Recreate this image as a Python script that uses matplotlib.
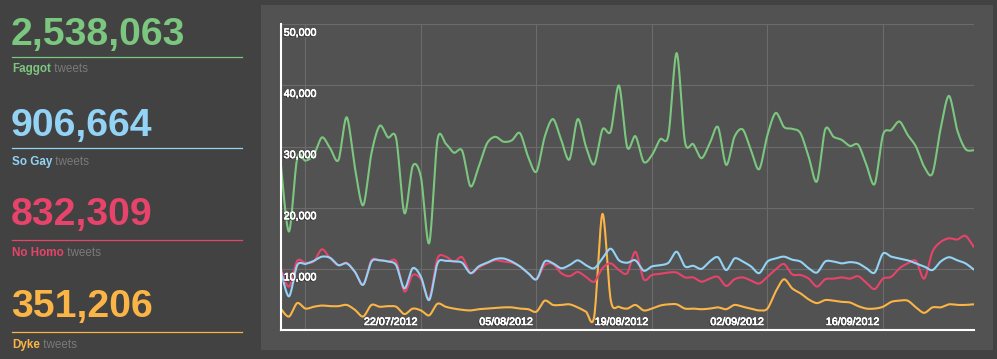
import numpy as np
import pandas as pd
import matplotlib
matplotlib.use('Agg')
import matplotlib.pyplot as plt
import matplotlib.dates as mdates
import matplotlib.patheffects as pe
from matplotlib.lines import Line2D
from matplotlib.patches import Rectangle
from matplotlib.transforms import offset_copy

plt.rcParams['font.family'] = ['Liberation Sans', 'DejaVu Sans']

# ---------------- data ----------------
dates = pd.date_range('2012-07-05', '2012-09-27', freq='D')

faggot = [27300, 16100, 28100, 27700, 28600, 31500, 29700, 27800, 34800, 26500,
          20400, 28900, 33400, 31500, 31300, 19100, 26800, 25000, 14200, 31100,
          30500, 29000, 29300, 23500, 26700, 30500, 31600, 30800, 31000, 32200,
          28300, 25900, 31600, 34500, 31100, 27900, 34500, 30000, 27100, 32800,
          32500, 40000, 29900, 31700, 27500, 28600, 31200, 31900, 45300, 30800,
          30400, 28100, 30500, 33200, 27000, 31600, 32800, 29400, 26300, 31900,
          35500, 33200, 32900, 32200, 28300, 24300, 32800, 31600, 31100, 30100,
          30300, 27000, 23900, 31900, 32700, 34100, 31900, 30000, 26700, 25600,
          33000, 38300, 32700, 29600, 29400]

so_gay = [9800, 5500, 10600, 10800, 11300, 12000, 11800, 10600, 10900, 9500,
          7400, 11200, 11400, 11200, 10600, 6800, 10100, 8700, 4900, 10900,
          11300, 11200, 11000, 9300, 10400, 11000, 11600, 11700, 11200, 10400,
          9300, 8300, 11200, 10900, 10100, 10600, 11400, 10600, 10100, 11700,
          13300, 11400, 11000, 11400, 9700, 10400, 10600, 11000, 12800, 10400,
          10500, 10000, 11200, 11900, 9800, 11700, 11200, 10400, 9300, 11200,
          11700, 12000, 11500, 11200, 10100, 9400, 11200, 11200, 10900, 11100,
          10900, 10100, 9400, 12500, 12000, 11700, 11400, 10900, 10400, 9800,
          11200, 11900, 11400, 10900, 9900]

no_homo = [10100, 7100, 11300, 11000, 11200, 13200, 11700, 10600, 11000, 9500,
           7400, 11400, 11400, 11200, 11200, 6300, 9000, 8300, 5200, 11700,
           12000, 11200, 11900, 9300, 10200, 10900, 11400, 11200, 11000, 10400,
           9300, 8300, 10600, 10800, 9300, 8800, 9500, 8700, 7900, 10100,
           10900, 9800, 9300, 12800, 8300, 9000, 9200, 9400, 9400, 8600,
           8600, 7900, 8400, 8700, 7200, 8300, 8600, 8100, 7600, 8700,
           9900, 10800, 9100, 9000, 8400, 7100, 8300, 8400, 8600, 8400,
           8800, 7700, 6700, 8400, 8700, 10100, 10900, 11300, 8400, 12800,
           14400, 15000, 14800, 15400, 13600]

dyke = [3500, 2200, 4400, 3500, 3800, 4000, 3900, 3900, 4100, 3300,
        2200, 4100, 3800, 3900, 3800, 2600, 3500, 3200, 2400, 4300,
        3800, 3500, 3300, 3200, 3400, 3500, 3600, 3700, 3700, 3500,
        3400, 3000, 4800, 4100, 4100, 4200, 3700, 3000, 2200, 19000,
        4900, 3800, 3500, 4100, 3200, 3500, 4000, 4200, 4200, 3500,
        3500, 3400, 3500, 3700, 3400, 4100, 3800, 3500, 3200, 3500,
        6300, 8300, 6800, 6000, 5000, 4400, 4900, 4800, 4600, 4500,
        3900, 3500, 3500, 3800, 4600, 4800, 4800, 3700, 2800, 3700,
        3700, 4200, 4100, 4100, 4200]

names = ['Faggot', 'So Gay', 'No Homo', 'Dyke']
totals = [2538063, 906664, 832309, 351206]
y_ticks = [10000, 20000, 30000, 40000, 50000]
x_ticks = ['2012-07-08', '2012-07-22', '2012-08-05', '2012-08-19', '2012-09-02', '2012-09-16']
x_labeled = ['2012-07-22', '2012-08-05', '2012-08-19', '2012-09-02', '2012-09-16']

# ---------------- style ----------------
C_GREEN, C_BLUE, C_RED, C_ORANGE = '#7cc77f', '#93d3f6', '#e8436a', '#fbb446'
colors = [C_GREEN, C_BLUE, C_RED, C_ORANGE]
BG, PANEL, GRID = '#424242', '#525252', '#6b6b6b'
W, H = 997, 359


def cardinal(x, y, a=0.15, n=16):
    # d3 'cardinal' style curve (bezier control = p +/- a*(p[i+1]-p[i-1]))
    x = np.asarray(x, float); y = np.asarray(y, float)
    tx = np.zeros_like(x); ty = np.zeros_like(y)
    tx[1:-1] = a * (x[2:] - x[:-2]); ty[1:-1] = a * (y[2:] - y[:-2])
    tx[0] = a * (x[1] - x[0]); ty[0] = a * (y[1] - y[0])
    tx[-1] = a * (x[-1] - x[-2]); ty[-1] = a * (y[-1] - y[-2])
    s = np.linspace(0, 1, n, endpoint=False)[:, None]
    b0, b1, b2, b3 = (1 - s) ** 3, 3 * s * (1 - s) ** 2, 3 * s ** 2 * (1 - s), s ** 3
    X = b0 * x[:-1] + b1 * (x[:-1] + tx[:-1]) + b2 * (x[1:] - tx[1:]) + b3 * x[1:]
    Y = b0 * y[:-1] + b1 * (y[:-1] + ty[:-1]) + b2 * (y[1:] - ty[1:]) + b3 * y[1:]
    return np.append(X.T.ravel(), x[-1]), np.append(Y.T.ravel(), y[-1])


fig = plt.figure(figsize=(W / 100, H / 100), dpi=100, facecolor=BG)
fig.add_artist(Rectangle((261 / W, 1 - 350 / H), 732 / W, 345 / H,
                         transform=fig.transFigure, fc=PANEL, ec='none', zorder=0))

ax = fig.add_axes([280.7 / W, 1 - 330 / H, 693 / W, 305.7 / H])
ax.set_facecolor(PANEL)

xnum = mdates.date2num(dates)
for series, col in [(dyke, C_ORANGE), (no_homo, C_RED), (so_gay, C_BLUE), (faggot, C_GREEN)]:
    sx, sy = cardinal(xnum, series)
    ax.plot(sx, sy, color=col, lw=1.5, solid_capstyle='round', zorder=3)

ax.set_xlim(xnum[0], xnum[-1])
ax.set_ylim(0, 50000)
ax.set_yticks(y_ticks)
ax.set_xticks(mdates.date2num(pd.to_datetime(x_ticks)))
ax.tick_params(length=0, labelleft=False, labelbottom=False)
ax.grid(True, color=GRID, lw=0.8)
ax.set_axisbelow(True)
for s in ['top', 'right']:
    ax.spines[s].set_visible(False)
for s in ['left', 'bottom']:
    ax.spines[s].set_color('white')
    ax.spines[s].set_linewidth(1.5)
    ax.spines[s].set_zorder(4)

shadow = [pe.withSimplePatchShadow(offset=(-0.8, -0.8), shadow_rgbFace='#262626', alpha=0.9),
          pe.withStroke(linewidth=0.45, foreground='white')]
ytr = offset_copy(ax.get_yaxis_transform(), fig=fig, x=3, y=-3.5, units='dots')
for v in y_ticks:
    ax.text(0, v, f'{v:,}', transform=ytr, ha='left', va='top', color='white',
            fontsize=7.7, path_effects=shadow, zorder=5)
xtr = offset_copy(ax.get_xaxis_transform(), fig=fig, x=-4, y=5, units='dots')
for d in pd.to_datetime(x_labeled):
    ax.text(mdates.date2num(d), 0, d.strftime('%d/%m/%Y'), transform=xtr, ha='right',
            va='baseline', color='white', fontsize=7.7, path_effects=shadow, zorder=5)

# ---------------- totals on the left ----------------
num_base = [45, 136, 225.5, 316.7]
rule_y = [56.7, 147.7, 240.3, 332.3]
lab_base = [72.3, 164.7, 256, 348.3]
for name, tot, col, yb, yl, yt in zip(names, totals, colors, num_base, rule_y, lab_base):
    fig.text(11 / W, 1 - yb / H, f'{tot:,}', color=col, fontsize=28.3, weight='bold',
             va='baseline', ha='left')
    fig.add_artist(Line2D([12 / W, 242 / W], [1 - yl / H] * 2, color=col, lw=0.9,
                          transform=fig.transFigure))
    t = fig.text(12 / W, 1 - yt / H, name, color=col, fontsize=8.4, weight='bold',
                 va='baseline', ha='left')
    fig.texts.append(matplotlib.text.Annotation(' tweets', xy=(1, 0), xycoords=t,
                                                ha='left', va='bottom', color='#7a7a7a',
                                                fontsize=8.4))
    fig.texts[-1].set_figure(fig)

fig.savefig('out.png', dpi=100, facecolor=BG)
